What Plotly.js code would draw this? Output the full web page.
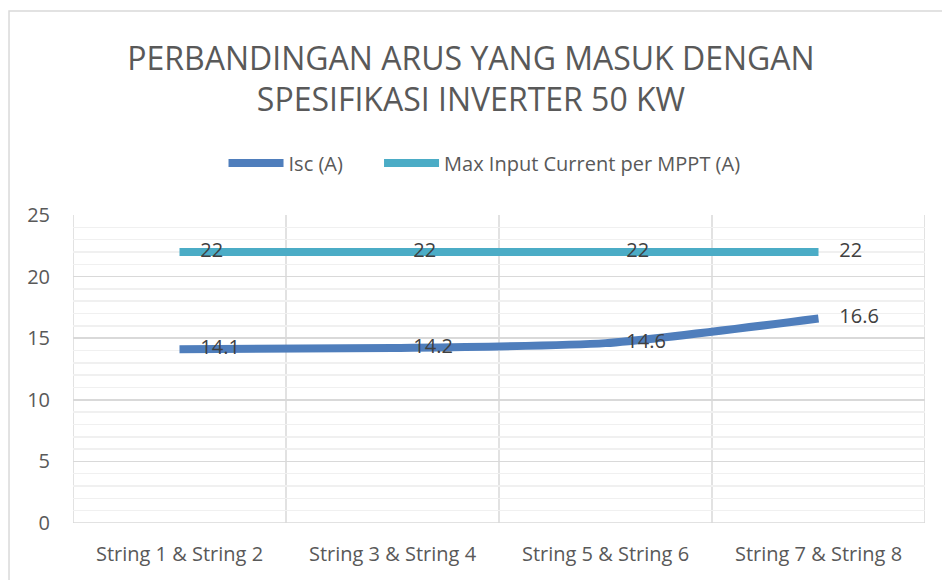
<!DOCTYPE html>
<html>
<head>
<meta charset="utf-8">
<script src="https://cdn.plot.ly/plotly-3.0.1.min.js"></script>
<style>html,body{margin:0;padding:0;background:#fff;}#chart{width:942px;height:580px;}</style>
</head>
<body>
<div id="chart"></div>
<script>
var categories = ["String 1 & String 2", "String 3 & String 4", "String 5 & String 6", "String 7 & String 8"];
var iscValues = [14.1, 14.2, 14.6, 16.6];
var maxInputValues = [22, 22, 22, 22];
var seriesNames = ["Isc (A)", "Max Input Current per MPPT (A)"];
var chartTitle = "PERBANDINGAN ARUS YANG MASUK DENGAN<br>SPESIFIKASI INVERTER 50 KW";

var FONT = "Open Sans, sans-serif";
var idx = categories.map(function(_, i){ return i; });

function labels(v){ return v.map(function(x){ return "    " + x; }); }

var traces = [
  {
    x: idx, y: iscValues, name: seriesNames[0] + "      ", type: "scatter", mode: "lines+text",
    line: {color: "#4F7EBC", width: 8, shape: "spline", smoothing: 0.6},
    text: labels(iscValues), textposition: "middle right",
    textfont: {family: FONT, size: 20, color: "#404040"}, cliponaxis: false,
    hoverinfo: "skip"
  },
  {
    x: idx, y: maxInputValues, name: seriesNames[1], type: "scatter", mode: "lines+text",
    line: {color: "#4BACC6", width: 8, shape: "spline"},
    text: labels(maxInputValues), textposition: "middle right",
    textfont: {family: FONT, size: 20, color: "#404040"}, cliponaxis: false,
    hoverinfo: "skip"
  }
];

var layout = {
  width: 942, height: 580,
  margin: {l: 73, r: 17, t: 215, b: 57},
  paper_bgcolor: "#ffffff", plot_bgcolor: "#ffffff",
  font: {family: FONT, color: "#595959"},
  showlegend: true,
  title: {text: chartTitle, font: {family: FONT, size: 32, color: "#595959"}, x: 0.5, xanchor: "center", yref: "container", y: 0.88, yanchor: "middle"},
  legend: {orientation: "h", x: 0.483, xanchor: "center", y: 1.169, yanchor: "middle", font: {family: FONT, size: 20, color: "#595959"}, itemwidth: 55, traceorder: "normal"},
  xaxis: {
    range: [-0.5, 3.5], tickmode: "array", tickvals: idx, ticktext: categories,
    showgrid: false, zeroline: false, showline: false, ticks: "",
    tickfont: {family: FONT, size: 20, color: "#595959"}, ticklabelstandoff: 17, fixedrange: true
  },
  yaxis: {
    range: [0, 25], tickmode: "linear", dtick: 5, tick0: 0,
    showgrid: true, gridcolor: "#d9d9d9", gridwidth: 1.5,
    minor: {dtick: 1, showgrid: true, gridcolor: "#f0f0f0", gridwidth: 1.5},
    zeroline: false, showline: false, ticks: "",
    tickfont: {family: FONT, size: 20, color: "#595959"}, ticklabelstandoff: 22, fixedrange: true
  },
  shapes: [
    {type: "rect", xref: "paper", yref: "paper", x0: -0.0751, x1: 1.05, y0: -0.25, y1: 1.6623, line: {color: "#d9d9d9", width: 1.5}, layer: "below"}
  ]
};
[0.5, 1.5, 2.5, 3.5, -0.5].forEach(function(b){
  layout.shapes.push({type: "line", xref: "x", yref: "paper", x0: b, x1: b, y0: 0, y1: 1, line: {color: "#d9d9d9", width: 1.5}, layer: "below"});
});
layout.shapes.push({type: "line", xref: "paper", yref: "y", x0: 0, x1: 1, y0: 0, y1: 0, line: {color: "#d9d9d9", width: 1.5}, layer: "below"});

Plotly.newPlot("chart", traces, layout, {displayModeBar: false, staticPlot: true});
</script>
</body>
</html>
